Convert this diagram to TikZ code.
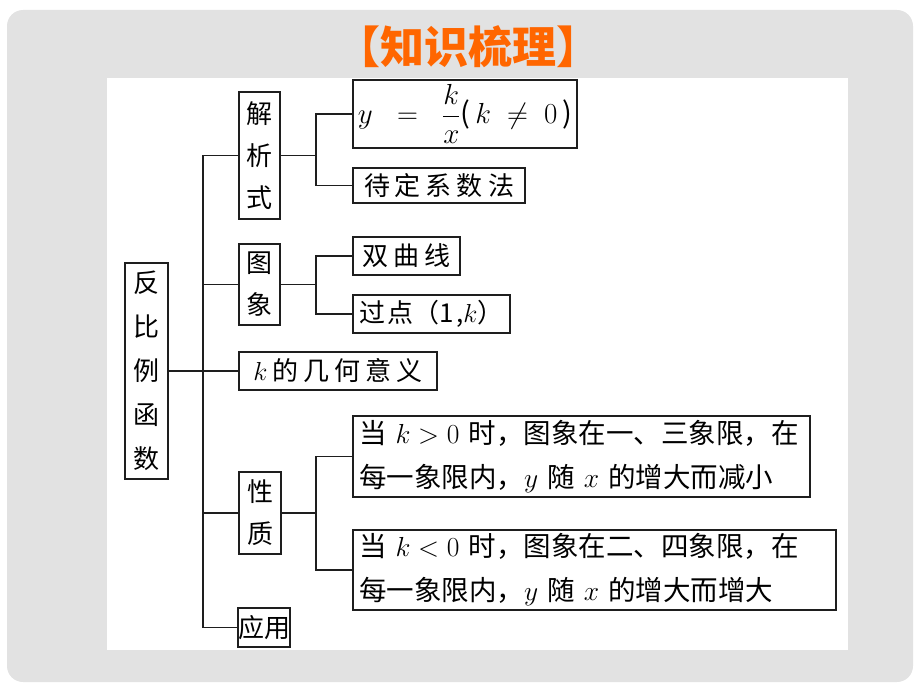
\RequirePackage{fix-cm}
\documentclass[tikz,border=0pt]{standalone}
\usepackage{fontspec}
\setmainfont{Noto Sans CJK SC}
\definecolor{titleor}{RGB}{255,102,0}
\definecolor{bggray}{RGB}{226,226,226}
\definecolor{ln}{RGB}{30,30,30}
\newcommand\gs{\hspace{5pt}}
\begin{document}
\begin{tikzpicture}[x=1pt,y=-1pt,
 box/.style={draw=ln, line width=1.4pt, inner sep=0pt, font=\fontsize{26}{42}\selectfont, align=center},
 para/.style={draw=ln, line width=1.4pt, inner xsep=6pt, inner ysep=0pt, font=\fontsize{27.5}{44}\selectfont, align=left},
 conn/.style={draw=ln, line width=1.4pt}]
\useasboundingbox (0,0) rectangle (920,690);
\fill[bggray, rounded corners=16pt] (7,10) rectangle (913,682);
\fill[white] (107,78) rectangle (848,650);
\node[font=\fontsize{44}{44}\selectfont\bfseries, text=titleor] (title) at (468,47) {【知识梳理】};
% nodes
\node[box, font=\fontsize{26}{44}\selectfont, minimum width=43pt, minimum height=216pt] (fan) at (146.5,371) {反\\比\\例\\函\\数};
\node[box, minimum width=41pt, minimum height=127pt] (jie) at (259.5,155.5) {解\\析\\式};
\node[box, font=\fontsize{29}{42}\selectfont, minimum width=224pt, minimum height=68pt] (eq) at (465,114) {$y\;\;=\;\;\displaystyle\frac{k}{x}$(\,$k\;\neq\;0$\,)};
\node[box, minimum width=172pt, minimum height=35pt] (dai) at (439,185.5) {待\gs 定\gs 系\gs 数\gs 法};
\node[box, minimum width=41pt, minimum height=81pt] (tu) at (259.5,284.5) {图\\象};
\node[box, minimum width=107pt, minimum height=38pt] (shuang) at (406.5,256) {双\gs 曲\gs 线};
\node[box, minimum width=157pt, minimum height=38pt] (guo) at (431.5,314) {过\hspace{2pt}点（1\hspace{2pt},$k$）};
\node[box, minimum width=198pt, minimum height=38pt] (kji) at (338,371) {$k$\gs 的\gs 几\gs 何\gs 意\gs 义};
\node[box, minimum width=42pt, minimum height=82pt] (xing) at (260,513) {性\\质};
\node[para, text width=445pt, minimum height=81pt] (p1) at (581.5,456.5) {当 $k>0$ 时，图象在一、三象限，在\\每一象限内，$y$ 随 $x$ 的增大而减小};
\node[para, text width=471pt, minimum height=80pt] (p2) at (594.5,570) {当 $k<0$ 时，图象在二、四象限，在\\每一象限内，$y$ 随 $x$ 的增大而增大};
\node[box, minimum width=50pt, minimum height=39pt] (ying) at (264,627.5) {应用};
% connectors
\coordinate (trunk) at (203,0);
\coordinate (fork) at (316,0);
\draw[conn] (fan.east) -- (kji.west);
\draw[conn] (jie.west) -- (jie.west -| trunk) |- (ying.west);
\draw[conn] (tu.west) -- (tu.west -| trunk);
\draw[conn] (xing.west) -- (xing.west -| trunk);
\draw[conn] (jie.east) -- (jie.east -| fork);
\draw[conn] (eq.west) -- (eq.west -| fork) |- (dai.west);
\draw[conn] (tu.east) -- (tu.east -| fork);
\draw[conn] (shuang.west) -- (shuang.west -| fork) |- (guo.west);
\draw[conn] (xing.east) -- (xing.east -| fork);
\draw[conn] (p1.west) -- (p1.west -| fork) |- (p2.west);
\end{tikzpicture}
\end{document}
